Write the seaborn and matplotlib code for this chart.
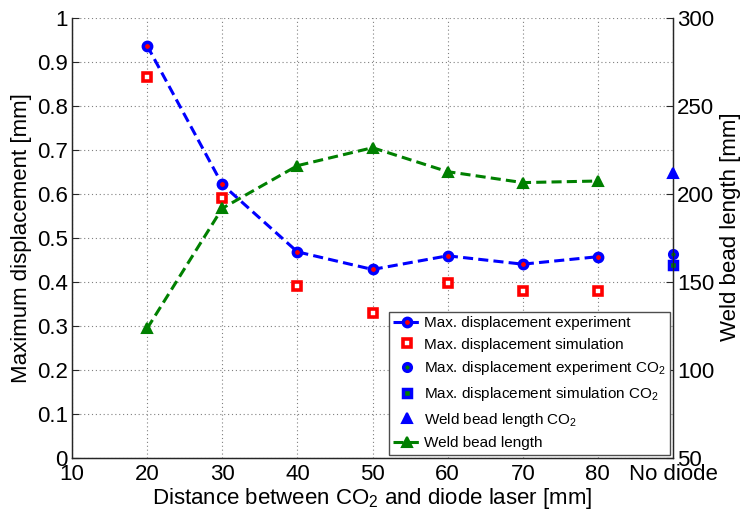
import matplotlib
matplotlib.use("Agg")
import matplotlib.pyplot as plt
import seaborn as sns

# ---- data ----
distance = [20, 30, 40, 50, 60, 70, 80]
disp_experiment = [0.936, 0.621, 0.468, 0.428, 0.459, 0.440, 0.457]
disp_simulation = [0.864, 0.591, 0.391, 0.330, 0.397, 0.380, 0.380]
bead_length = [123.5, 191.7, 215.9, 226.1, 212.5, 206.3, 207.2]

no_diode_x = [90]
disp_experiment_co2 = [0.463]
disp_simulation_co2 = [0.438]
bead_length_co2 = [212.0]

x_ticks = [10, 20, 30, 40, 50, 60, 70, 80, 90]
x_ticklabels = ["10", "20", "30", "40", "50", "60", "70", "80", "No diode"]
y_ticks = [0, 0.1, 0.2, 0.3, 0.4, 0.5, 0.6, 0.7, 0.8, 0.9, 1.0]
y_ticklabels = ["0", "0.1", "0.2", "0.3", "0.4", "0.5", "0.6", "0.7", "0.8", "0.9", "1"]
y2_ticks = [50, 100, 150, 200, 250, 300]

labels = [
    "Max. displacement experiment",
    "Max. displacement simulation",
    "Max. displacement experiment CO$_2$",
    "Max. displacement simulation CO$_2$",
    "Weld bead length CO$_2$",
    "Weld bead length",
]

sns.set_style("white")
plt.rcParams["font.family"] = ["Liberation Sans", "DejaVu Sans"]
plt.rcParams["mathtext.fontset"] = "custom"
plt.rcParams["mathtext.rm"] = "Liberation Sans"
plt.rcParams["mathtext.default"] = "regular"
plt.rcParams["text.color"] = "black"
plt.rcParams["axes.labelcolor"] = "black"

fig = plt.figure(figsize=(7.42, 5.14), dpi=100)
ax = fig.add_axes([72 / 742, 1 - 458 / 514, 601 / 742, 440.5 / 514])
ax2 = ax.twinx()

dash = (0, (3.3, 1.7))

sns.lineplot(x=distance, y=disp_experiment, ax=ax, color="blue", lw=2.2,
             linestyle=dash, marker="o", ms=6, mfc="red", mec="blue", mew=2.5,
             label=labels[0], legend=False, zorder=3)
sns.lineplot(x=distance, y=disp_simulation, ax=ax, color="red", linestyle="none",
             marker="s", ms=5.8, mfc="white", mec="red", mew=2.6,
             label=labels[1], legend=False, zorder=4)
sns.lineplot(x=no_diode_x, y=disp_experiment_co2, ax=ax, color="blue", linestyle="none",
             marker="o", ms=5.5, mfc="green", mec="blue", mew=2.5,
             label=labels[2], legend=False, clip_on=False, zorder=5)
sns.lineplot(x=no_diode_x, y=disp_simulation_co2, ax=ax, color="blue", linestyle="none",
             marker="s", ms=6, mfc="green", mec="blue", mew=2.5,
             label=labels[3], legend=False, clip_on=False, zorder=5)

sns.lineplot(x=no_diode_x, y=bead_length_co2, ax=ax2, color="blue", linestyle="none",
             marker="^", ms=7, mfc="blue", mec="blue", mew=1.5,
             label=labels[4], legend=False, clip_on=False, zorder=5)
sns.lineplot(x=distance, y=bead_length, ax=ax2, color="green", lw=2.2,
             linestyle=dash, marker="^", ms=7, mfc="green", mec="green", mew=1.5,
             label=labels[5], legend=False, zorder=3)

# axes setup
ax.set_xlim(10, 90)
ax.set_ylim(0, 1)
ax2.set_ylim(50, 300)
ax.set_xticks(x_ticks)
ax.set_xticklabels(x_ticklabels)
ax.set_yticks(y_ticks)
ax.set_yticklabels(y_ticklabels)
ax2.set_yticks(y2_ticks)

ax.grid(True, linestyle=(0, (1, 2.5)), color="0.5", lw=0.8)
ax.set_axisbelow(True)
ax2.grid(False)

for a in (ax, ax2):
    a.spines["top"].set_visible(False)
    for s in ("left", "right", "bottom"):
        a.spines[s].set_color("0.15")
        a.spines[s].set_linewidth(0.9)
    a.tick_params(direction="in", length=5, width=0.8, colors="0.15",
                  labelsize=16, labelcolor="black", pad=3)
ax.tick_params(axis="x", pad=4)

ax.set_xlabel("Distance between CO$_2$ and diode laser [mm]", fontsize=16, labelpad=1)
ax.set_ylabel("Maximum displacement [mm]", fontsize=16)
ax2.set_ylabel("Weld bead length [mm]", fontsize=16)
ax.yaxis.set_label_coords(-0.066, 0.5)
ax2.yaxis.set_label_coords(1.078, 0.525)

# legend combining both axes
h1, l1 = ax.get_legend_handles_labels()
h2, l2 = ax2.get_legend_handles_labels()
leg = ax2.legend(h1 + h2, l1 + l2, loc="lower right", fontsize=11,
                 frameon=True, fancybox=False, framealpha=1, edgecolor="0.3",
                 borderaxespad=0.2, handlelength=1.8, handletextpad=0.2,
                 labelspacing=0.5, borderpad=0.3)
leg.get_frame().set_linewidth(1.0)
leg.set_zorder(10)

fig.savefig("out.png", dpi=100)
